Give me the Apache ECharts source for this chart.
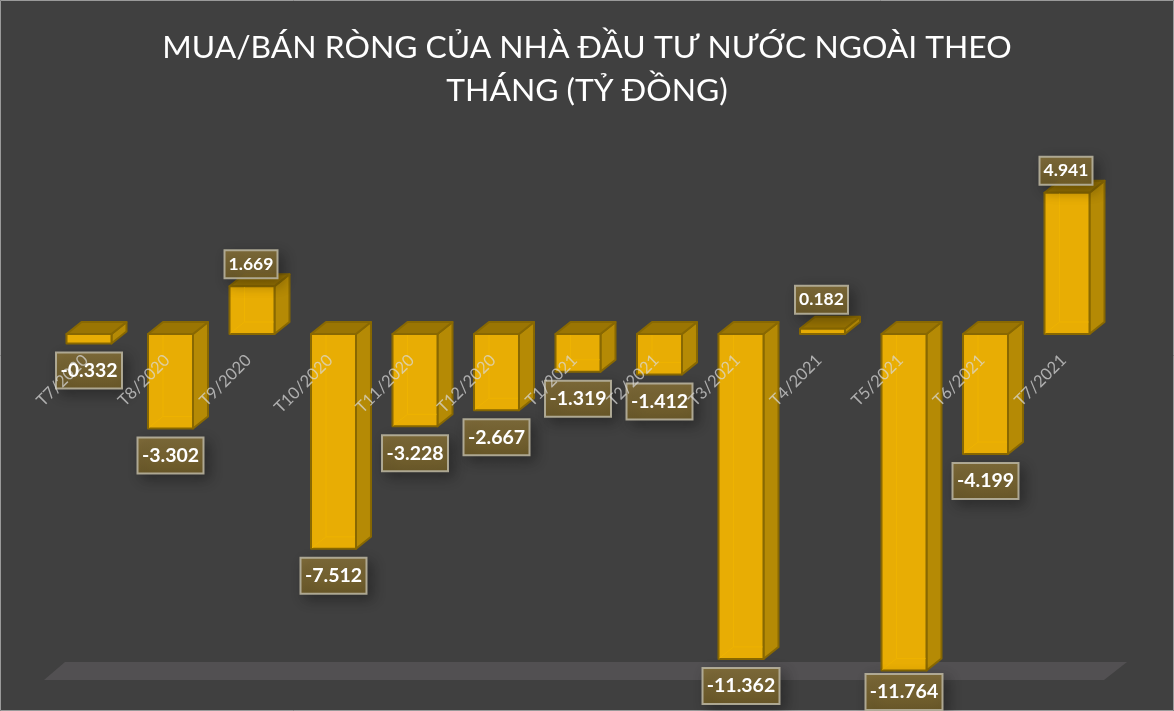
<!DOCTYPE html>
<html><head><meta charset="utf-8">
<style>html,body{margin:0;padding:0;background:#404040}#c{width:1174px;height:711px}</style>
<script src="https://cdn.jsdelivr.net/npm/echarts@6/dist/echarts.min.js"></script>
</head><body><div id="c"></div>
<script>
const titleText = 'MUA/BÁN RÒNG CỦA NHÀ ĐẦU TƯ NƯỚC NGOÀI THEO\nTHÁNG (TỶ ĐỒNG)';
const months = ['T7/2020','T8/2020','T9/2020','T10/2020','T11/2020','T12/2020','T1/2021','T2/2021','T3/2021','T4/2021','T5/2021','T6/2021','T7/2021'];
const netValues = [-332,-3302,1669,-7512,-3228,-2667,-1319,-1412,-11362,182,-11764,-4199,4941];

const FONT = 'Lato, "Noto Sans", sans-serif';
const fmt = v => { const a = Math.abs(v); const t = Math.floor(a/1000), r = String(a%1000).padStart(3,'0'); return (v<0?'-':'')+t+'.'+r; };

function barItem(params, api){
  const i = api.value(0), v = api.value(1);
  const band = api.size([1,0])[0];
  const w = band*0.552, dx = band*0.184, dy = -12;
  const c0 = api.coord([i,0]), c1 = api.coord([i,v]);
  const xl = c0[0]-w/2, xr = c0[0]+w/2;
  const yt = Math.min(c0[1],c1[1]), yb = Math.max(c0[1],c1[1]);
  const edge = '#886802';
  const poly = (pts,fill) => ({type:'polygon',shape:{points:pts},style:{fill,stroke:edge,lineWidth:2,lineJoin:'round'}});
  const line = (a,b) => ({type:'line',shape:{x1:a[0],y1:a[1],x2:b[0],y2:b[1]},style:{stroke:'#EEB301',lineWidth:1}});
  const kids = [
    poly([[xr,yt],[xr+dx,yt+dy],[xr+dx,yb+dy],[xr,yb]],'#B58A05'),
    poly([[xl,yt],[xl+dx,yt+dy],[xr+dx,yt+dy],[xr,yt]],'#9A7503'),
    poly([[xl,yt],[xr,yt],[xr,yb],[xl,yb]],'#E8AD04')
  ];
  if (yb-yt > 14) {
    kids.push(line([xl+dx,yt+1],[xl+dx,yb+dy]), line([xl+dx,yb+dy],[xr-1,yb+dy]), line([xl+1,yb-1],[xl+dx,yb+dy]));
  }
  return {type:'group',children:kids};
}

function labelBox(api){
  const i = api.value(0), v = api.value(1);
  const c0 = api.coord([i,0]), c1 = api.coord([i,v]);
  const txt = fmt(v), neg = v<0;
  const W = neg ? 11*txt.length : 11*txt.length-2, H = neg?36:28;
  const h = Math.abs(c1[1]-c0[1]);
  const top = neg ? Math.min(c1[1]+9, 674) : c1[1]-(h<12?15:8)-H;
  const left = c0[0]-W/2 + (neg?0:-1);
  return {txt,neg,W,H,top,left};
}
function labelBoxItem(params, api){
  const b = labelBox(api);
  return {type:'rect',shape:{x:b.left,y:b.top,width:b.W,height:b.H},style:{
    fill:{type:'linear',x:0,y:0,x2:0,y2:1,colorStops:[{offset:0,color:'#85703A'},{offset:1,color:'#6F5C28'}]},
    stroke:'#B5B09B',lineWidth:2,shadowBlur:14,shadowColor:'rgba(0,0,0,0.35)',shadowOffsetX:5,shadowOffsetY:5,opacity:0.92}};
}
function labelTextItem(params, api){
  const b = labelBox(api);
  return {type:'text',style:{x:b.left+b.W/2,y:b.top+b.H/2,text:b.txt,fill:'#fff',font:'bold '+(b.neg?19.5:17.5)+'px '+FONT,align:'center',verticalAlign:'middle'}};
}

const chart = echarts.init(document.getElementById('c'),null,{renderer:'canvas'});
const rows = netValues.map((v,i)=>[i,v]);
chart.setOption({
  animation:false,
  backgroundColor:'#404040',
  title:{text:titleText,left:'center',top:21,
    textStyle:{color:'#fff',fontFamily:FONT,fontWeight:'normal',fontSize:31.8,lineHeight:43}},
  grid:{left:48.25,width:1059.5,top:162.4,height:514.8,outerBoundsMode:'none'},
  xAxis:{type:'category',data:months,z:4,position:'bottom',offset:-343.2,
    axisLine:{show:false,onZero:false},axisTick:{show:false},
    axisLabel:{interval:0,rotate:45,margin:20,padding:[0,5,0,0],color:'rgba(217,217,217,0.72)',fontFamily:FONT,fontSize:16.5}},
  yAxis:{type:'value',min:-12000,max:6000,interval:2000,show:false},
  graphic:[
    {type:'polygon',z:0,shape:{points:[[65,662],[1127,662],[1104,680],[44,680]]},style:{fill:'#525052'}},
    {type:'rect',z:0,shape:{x:0.5,y:0.5,width:1173,height:710},style:{fill:'none',stroke:'#9a9a9a',lineWidth:1}}
  ],
  series:[
    {type:'custom',z:2,clip:false,data:rows,renderItem:barItem,encode:{x:0,y:1}},
    {type:'custom',z:3,clip:false,data:rows,renderItem:labelBoxItem,encode:{x:0,y:1}},
    {type:'custom',z:6,clip:false,data:rows,renderItem:labelTextItem,encode:{x:0,y:1}}
  ]
});
</script></body></html>
